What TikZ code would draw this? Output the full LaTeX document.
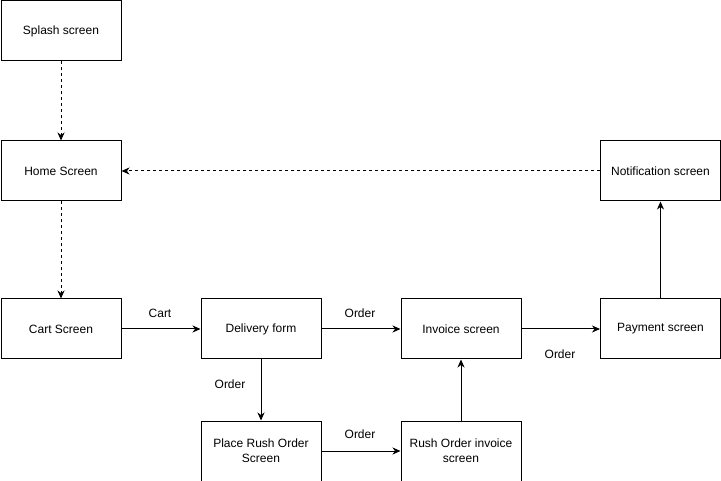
\documentclass[tikz,border=0pt]{standalone}
\usepackage{fontspec}
\setmainfont{Liberation Sans}
\usetikzlibrary{arrows.meta}

\begin{document}
\begin{tikzpicture}[x=1pt,y=-1pt,
  screen/.style={draw,line width=1pt,minimum width=120pt,minimum height=60pt,
    align=center,inner sep=0pt,font=\fontsize{12}{15}\selectfont},
  flow/.style={-{Stealth[length=8pt,width=7pt,inset=2.5pt]},line width=1pt},
  jump/.style={flow,dash pattern=on 3pt off 3pt},
  lbl/.style={font=\fontsize{12}{15}\selectfont}]

\useasboundingbox (0,0) rectangle (721,481);

% Screens
\node[screen] (splash) at (61,31) {Splash screen};
\node[screen] (home) at (61,171) {Home Screen};
\node[screen] (cart) at (61,329) {Cart Screen};
\node[screen] (delivery) at (261,329) {Delivery form};
\node[screen] (invoice) at (461,329) {Invoice screen};
\node[screen] (payment) at (660.5,329) {Payment screen};
\node[screen] (notify) at (660.5,171) {Notification screen};
\node[screen] (rush) at (261,451) {Place Rush Order\\Screen};
\node[screen] (rushinv) at (461,451) {Rush Order invoice\\screen};

% Dashed navigation
\draw[jump] (splash) -- (home);
\draw[jump] (home) -- (cart);
\draw[jump] (notify) -- (home);

% Order flow
\draw[flow] (cart) -- (delivery);
\draw[flow] (delivery) -- (invoice);
\draw[flow] (delivery) -- (rush);
\draw[flow] (rush) -- (rushinv);
\draw[flow] (rushinv) -- (invoice);
\draw[flow] (invoice) -- (payment);
\draw[flow] (payment) -- (notify);

% Labels
\node[lbl] (l1) at (160,313) {Cart};
\node[lbl] (l2) at (360,313) {Order};
\node[lbl] (l3) at (230,384) {Order};
\node[lbl] (l4) at (360,434) {Order};
\node[lbl] (l5) at (560,354) {Order};

\end{tikzpicture}
\end{document}
